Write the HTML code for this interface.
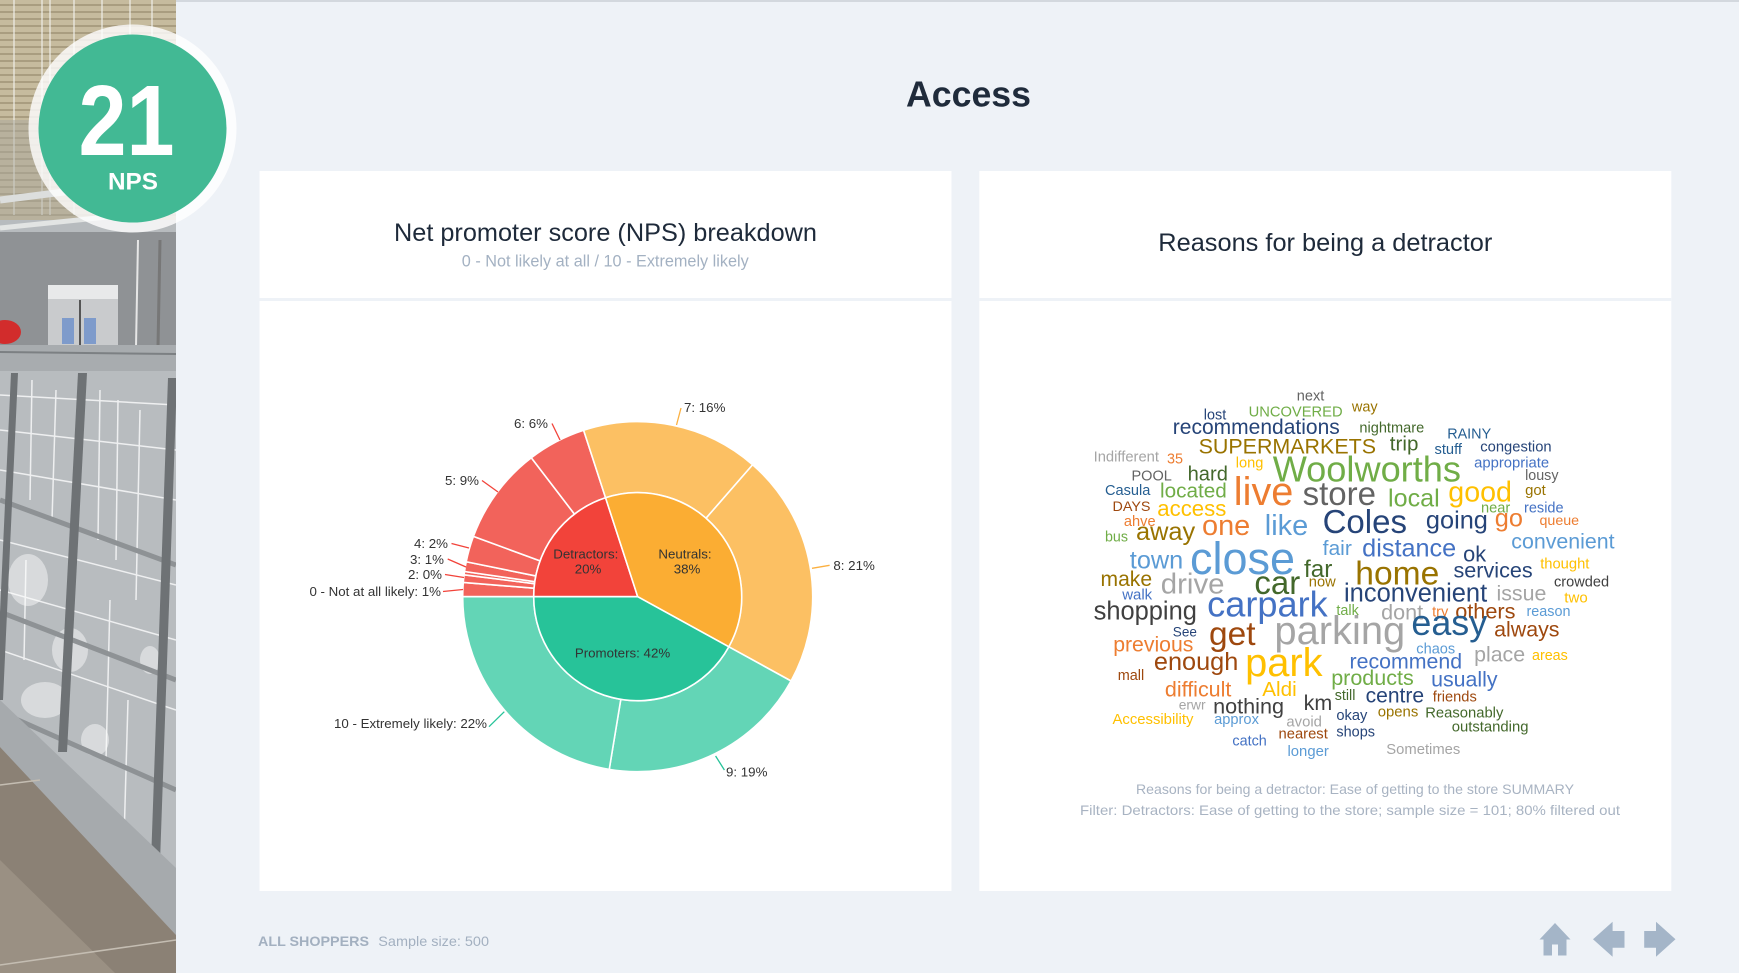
<!DOCTYPE html>
<html>
<head>
<meta charset="utf-8">
<style>
html,body{margin:0;padding:0;background:#eef2f7;}
body{width:1739px;height:973px;overflow:hidden;}
svg{display:block;}
text{font-family:"Liberation Sans",Arial,sans-serif;}
</style>
</head>
<body>
<svg width="1739" height="973" viewBox="0 0 1739 973" xmlns="http://www.w3.org/2000/svg">
<defs>
<pattern id="ceil" width="10" height="7" patternUnits="userSpaceOnUse">
<rect width="10" height="7" fill="#c6bb9e"/>
<rect y="4" width="10" height="2" fill="#a99d80"/>
</pattern>
<clipPath id="sb"><rect x="0" y="0" width="176" height="973"/></clipPath>
</defs>
<rect x="0" y="0" width="1739" height="973" fill="#eef2f7"/>
<rect x="0" y="0" width="1739" height="2" fill="#d3d8de"/>

<!-- Sidebar photo approximation -->
<g clip-path="url(#sb)">
<rect x="0" y="0" width="176" height="973" fill="#b7bbbe"/>
<rect x="0" y="0" width="176" height="220" fill="url(#ceil)"/>
<g stroke="#f0f0ea" stroke-width="1.5" opacity="0.8">
<line x1="14" y1="0" x2="14" y2="215"/><line x1="42" y1="0" x2="42" y2="215"/>
<line x1="50" y1="0" x2="50" y2="215"/><line x1="74" y1="0" x2="74" y2="215"/>
<line x1="102" y1="0" x2="102" y2="215"/><line x1="130" y1="0" x2="130" y2="215"/>
<line x1="152" y1="0" x2="152" y2="215"/>
</g>
<rect x="0" y="120" width="176" height="100" fill="#a9a89c" opacity="0.5"/>
<line x1="0" y1="200" x2="176" y2="178" stroke="#dcdedd" stroke-width="7"/>
<line x1="0" y1="228" x2="176" y2="210" stroke="#e2e4e3" stroke-width="5"/>
<rect x="0" y="232" width="176" height="115" fill="#8f9295"/>
<rect x="48" y="285" width="70" height="62" fill="#c9cbcd"/>
<rect x="48" y="285" width="70" height="14" fill="#e8e9ea"/>
<rect x="62" y="318" width="12" height="26" fill="#7e9bcb"/>
<rect x="84" y="318" width="12" height="26" fill="#7e9bcb"/>
<line x1="80" y1="300" x2="80" y2="347" stroke="#555" stroke-width="2"/>
<line x1="138" y1="240" x2="136" y2="347" stroke="#e6e6e6" stroke-width="2"/>
<line x1="160" y1="240" x2="158" y2="347" stroke="#777" stroke-width="3"/>
<ellipse cx="5" cy="332" rx="16" ry="12" fill="#d22c2c"/>
<rect x="0" y="345" width="176" height="26" fill="#a8acaf"/>
<line x1="0" y1="352" x2="176" y2="354" stroke="#7c8083" stroke-width="2"/>
<rect x="0" y="371" width="176" height="560" fill="#b8bcbf"/>
<g stroke="#f4f5f6" stroke-width="1.5" fill="none" opacity="0.9">
<line x1="0" y1="395" x2="176" y2="405"/><line x1="0" y1="430" x2="176" y2="450"/>
<line x1="0" y1="470" x2="176" y2="500"/><line x1="0" y1="540" x2="176" y2="585"/>
<line x1="0" y1="590" x2="176" y2="640"/><line x1="0" y1="650" x2="176" y2="710"/>
<line x1="32" y1="380" x2="30" y2="500"/><line x1="56" y1="390" x2="52" y2="520"/>
<line x1="100" y1="390" x2="98" y2="540"/><line x1="118" y1="400" x2="116" y2="560"/>
<line x1="140" y1="410" x2="136" y2="600"/><line x1="26" y1="560" x2="24" y2="660"/>
<line x1="110" y1="600" x2="106" y2="760"/><line x1="128" y1="700" x2="124" y2="840"/>
</g>
<g fill="#ffffff" opacity="0.45">
<ellipse cx="28" cy="580" rx="20" ry="26"/><ellipse cx="70" cy="650" rx="18" ry="22"/>
<ellipse cx="45" cy="700" rx="24" ry="18"/><ellipse cx="95" cy="740" rx="14" ry="16"/>
<ellipse cx="150" cy="660" rx="10" ry="14"/>
</g>
<g stroke="#8e9295" stroke-width="5">
<line x1="0" y1="500" x2="176" y2="565"/><line x1="0" y1="612" x2="176" y2="680"/>
<line x1="0" y1="712" x2="176" y2="790"/>
</g>
<polygon points="78,373 87,373 67,752 58,752" fill="#6e7275"/>
<polygon points="168,378 177,378 160,862 151,862" fill="#6e7275"/>
<polygon points="11,373 18,373 3,700 -4,700" fill="#6e7275"/>
<polygon points="0,700 176,868 176,935 0,747" fill="#a6aaad"/>
<polygon points="0,747 176,935 176,973 0,973" fill="#8b8175"/>
<polygon points="0,860 115,973 0,973" fill="#9a9083"/>
<line x1="0" y1="785" x2="40" y2="780" stroke="#c4bdb2" stroke-width="1.5"/>
<line x1="0" y1="965" x2="176" y2="940" stroke="#c4bdb2" stroke-width="1.5"/>
</g>

<!-- NPS badge -->
<circle cx="132.5" cy="128.5" r="104" fill="#ffffff" opacity="0.8"/>
<circle cx="132.5" cy="128.5" r="94" fill="#42b994"/>
<text x="126.5" y="155" font-size="100" font-weight="bold" fill="#ffffff" text-anchor="middle" textLength="96" lengthAdjust="spacingAndGlyphs">21</text>
<text x="133" y="189.3" font-size="24" font-weight="bold" fill="#ffffff" text-anchor="middle" textLength="50" lengthAdjust="spacingAndGlyphs">NPS</text>

<!-- Page title -->
<text x="968.5" y="106.5" font-size="36.5" font-weight="bold" fill="#1f2b3b" text-anchor="middle" textLength="125" lengthAdjust="spacingAndGlyphs">Access</text>

<!-- Panels -->
<rect x="259.5" y="171" width="692" height="720" fill="#ffffff"/>
<rect x="979.3" y="171" width="692" height="720" fill="#ffffff"/>
<rect x="259.5" y="298" width="692" height="3" fill="#eef2f7"/>
<rect x="979.3" y="298" width="692" height="3" fill="#eef2f7"/>

<text x="605.5" y="241" font-size="25" fill="#1e2a3a" text-anchor="middle" textLength="423" lengthAdjust="spacingAndGlyphs">Net promoter score (NPS) breakdown</text>
<text x="605.3" y="266.5" font-size="16.2" fill="#a3b1c2" text-anchor="middle" textLength="287" lengthAdjust="spacingAndGlyphs">0 - Not likely at all / 10 - Extremely likely</text>
<text x="1325.3" y="251" font-size="25" fill="#1e2a3a" text-anchor="middle" textLength="334" lengthAdjust="spacingAndGlyphs">Reasons for being a detractor</text>

<!-- Sunburst -->
<g stroke="#ffffff" stroke-width="1.6" stroke-linejoin="round">
<path d="M462.7,596.7 A175,175 0 0 1 463.28,582.42 L534.05,588.21 A104,104 0 0 0 533.7,596.7 Z" fill="#f2635b"/>
<path d="M463.28,582.42 A175,175 0 0 1 464.08,574.77 L534.52,583.67 A104,104 0 0 0 534.05,588.21 Z" fill="#f2635b"/>
<path d="M464.08,574.77 A175,175 0 0 1 464.52,571.50 L534.78,581.72 A104,104 0 0 0 534.52,583.67 Z" fill="#f2635b"/>
<path d="M464.52,571.50 A175,175 0 0 1 466.22,561.75 L535.79,575.93 A104,104 0 0 0 534.78,581.72 Z" fill="#f2635b"/>
<path d="M466.22,561.75 A175,175 0 0 1 473.42,536.39 L540.07,560.86 A104,104 0 0 0 535.79,575.93 Z" fill="#f2635b"/>
<path d="M473.42,536.39 A175,175 0 0 1 531.31,457.75 L574.48,514.13 A104,104 0 0 0 540.07,560.86 Z" fill="#f2635b"/>
<path d="M531.31,457.75 A175,175 0 0 1 583.62,430.26 L605.56,497.79 A104,104 0 0 0 574.48,514.13 Z" fill="#f2635b"/>
<path d="M583.62,430.26 A175,175 0 0 1 752.65,464.74 L706.01,518.28 A104,104 0 0 0 605.56,497.79 Z" fill="#fcc063"/>
<path d="M752.65,464.74 A175,175 0 0 1 791.05,681.01 L728.84,646.80 A104,104 0 0 0 706.01,518.28 Z" fill="#fcc063"/>
<path d="M791.05,681.01 A175,175 0 0 1 609.24,769.37 L620.79,699.32 A104,104 0 0 0 728.84,646.80 Z" fill="#63d5b6"/>
<path d="M609.24,769.37 A175,175 0 0 1 462.7,596.7 L533.7,596.7 A104,104 0 0 0 620.79,699.32 Z" fill="#63d5b6"/>
<path d="M637.7,596.7 L533.7,596.7 A104,104 0 0 1 605.56,497.79 Z" fill="#f2433a"/>
<path d="M637.7,596.7 L605.56,497.79 A104,104 0 0 1 728.84,646.80 Z" fill="#fbad33"/>
<path d="M637.7,596.7 L728.84,646.80 A104,104 0 0 1 533.7,596.7 Z" fill="#27c399"/>
</g>

<!-- leader lines -->
<g stroke-width="1.3" fill="none">
<line x1="676.5" y1="425" x2="681" y2="408" stroke="#fbb040"/>
<line x1="552" y1="423.5" x2="560" y2="440" stroke="#f2433a"/>
<line x1="482" y1="480.5" x2="498" y2="492" stroke="#f2433a"/>
<line x1="451.5" y1="543.5" x2="469" y2="548" stroke="#f2433a"/>
<line x1="447.7" y1="559" x2="466" y2="567" stroke="#f2433a"/>
<line x1="445" y1="574.5" x2="464" y2="577.5" stroke="#f2433a"/>
<line x1="443" y1="591.5" x2="463" y2="589.5" stroke="#f2433a"/>
<line x1="812" y1="568.3" x2="829.6" y2="565.3" stroke="#fbb040"/>
<line x1="715.6" y1="756" x2="724.4" y2="770" stroke="#27c399"/>
<line x1="489" y1="726.7" x2="504.3" y2="711.7" stroke="#27c399"/>
</g>
<g font-size="13.3" fill="#333333">
<text x="684" y="411.8">7: 16%</text>
<text x="548" y="428" text-anchor="end">6: 6%</text>
<text x="479" y="485" text-anchor="end">5: 9%</text>
<text x="448" y="548" text-anchor="end">4: 2%</text>
<text x="444" y="564" text-anchor="end">3: 1%</text>
<text x="442" y="579" text-anchor="end">2: 0%</text>
<text x="441" y="596" text-anchor="end">0 - Not at all likely: 1%</text>
<text x="833.4" y="569.8">8: 21%</text>
<text x="726" y="776.5">9: 19%</text>
<text x="487" y="728" text-anchor="end">10 - Extremely likely: 22%</text>
<text x="585.8" y="558.3" text-anchor="middle">Detractors:</text>
<text x="588" y="573.3" text-anchor="middle">20%</text>
<text x="685" y="558.3" text-anchor="middle">Neutrals:</text>
<text x="687" y="573.3" text-anchor="middle">38%</text>
<text x="622.5" y="657.7" text-anchor="middle">Promoters: 42%</text>
</g>

<!-- Word cloud -->
<g>
<text x="1296.8" y="400.7" font-size="14.6" fill="#636363" textLength="27.5" lengthAdjust="spacingAndGlyphs">next</text>
<text x="1203.8" y="419.3" font-size="14.4" fill="#264478" textLength="22.4" lengthAdjust="spacingAndGlyphs">lost</text>
<text x="1248.6" y="416.7" font-size="14.7" fill="#70ad47" textLength="94" lengthAdjust="spacingAndGlyphs">UNCOVERED</text>
<text x="1351.9" y="411.7" font-size="14.5" fill="#997300" textLength="25.8" lengthAdjust="spacingAndGlyphs">way</text>
<text x="1172.8" y="434" font-size="21" fill="#264478" textLength="167" lengthAdjust="spacingAndGlyphs">recommendations</text>
<text x="1359.4" y="432.7" font-size="14.6" fill="#43682b" textLength="64.8" lengthAdjust="spacingAndGlyphs">nightmare</text>
<text x="1447.2" y="438.3" font-size="14.4" fill="#255e91" textLength="44" lengthAdjust="spacingAndGlyphs">RAINY</text>
<text x="1198.6" y="453.3" font-size="21.4" fill="#997300" textLength="177.4" lengthAdjust="spacingAndGlyphs">SUPERMARKETS</text>
<text x="1389.8" y="450.7" font-size="20.6" fill="#43682b" textLength="28.6" lengthAdjust="spacingAndGlyphs">trip</text>
<text x="1434.5" y="454" font-size="14.6" fill="#255e91" textLength="27.5" lengthAdjust="spacingAndGlyphs">stuff</text>
<text x="1480.3" y="451.7" font-size="14.7" fill="#264478" textLength="71.3" lengthAdjust="spacingAndGlyphs">congestion</text>
<text x="1093.6" y="461.7" font-size="14.7" fill="#a5a5a5" textLength="65.4" lengthAdjust="spacingAndGlyphs">Indifferent</text>
<text x="1167" y="463.3" font-size="14.4" fill="#ed7d31" textLength="16" lengthAdjust="spacingAndGlyphs">35</text>
<text x="1235.8" y="467.3" font-size="14.6" fill="#ffc000" textLength="27.6" lengthAdjust="spacingAndGlyphs">long</text>
<text x="1272.7" y="481.7" font-size="36" fill="#70ad47" textLength="188.3" lengthAdjust="spacingAndGlyphs">Woolworths</text>
<text x="1474.1" y="467.3" font-size="14.8" fill="#4472c4" textLength="75" lengthAdjust="spacingAndGlyphs">appropriate</text>
<text x="1131.5" y="480.7" font-size="14.5" fill="#636363" textLength="40.3" lengthAdjust="spacingAndGlyphs">POOL</text>
<text x="1187.6" y="480.7" font-size="20.1" fill="#43682b" textLength="40.3" lengthAdjust="spacingAndGlyphs">hard</text>
<text x="1525.1" y="480" font-size="14.3" fill="#636363" textLength="33.4" lengthAdjust="spacingAndGlyphs">lousy</text>
<text x="1105" y="495" font-size="14.6" fill="#255e91" textLength="45.4" lengthAdjust="spacingAndGlyphs">Casula</text>
<text x="1160" y="497.3" font-size="20.7" fill="#70ad47" textLength="66.8" lengthAdjust="spacingAndGlyphs">located</text>
<text x="1233.8" y="505" font-size="39.7" fill="#ed7d31" textLength="59.6" lengthAdjust="spacingAndGlyphs">live</text>
<text x="1302.6" y="505" font-size="33" fill="#636363" textLength="73.4" lengthAdjust="spacingAndGlyphs">store</text>
<text x="1388" y="506.7" font-size="25.1" fill="#70ad47" textLength="51.7" lengthAdjust="spacingAndGlyphs">local</text>
<text x="1448.3" y="501.7" font-size="28.6" fill="#ffc000" textLength="63.7" lengthAdjust="spacingAndGlyphs">good</text>
<text x="1525.1" y="495" font-size="14.9" fill="#997300" textLength="20.7" lengthAdjust="spacingAndGlyphs">got</text>
<text x="1112.5" y="511" font-size="14" fill="#9e480e" textLength="38" lengthAdjust="spacingAndGlyphs">DAYS</text>
<text x="1157.3" y="516" font-size="22.2" fill="#ffc000" textLength="69" lengthAdjust="spacingAndGlyphs">access</text>
<text x="1481" y="512.7" font-size="14.6" fill="#70ad47" textLength="29.3" lengthAdjust="spacingAndGlyphs">near</text>
<text x="1524" y="512.7" font-size="14.5" fill="#4472c4" textLength="39.6" lengthAdjust="spacingAndGlyphs">reside</text>
<text x="1123.9" y="526" font-size="14.6" fill="#ed7d31" textLength="31.7" lengthAdjust="spacingAndGlyphs">ahve</text>
<text x="1202" y="535" font-size="28.9" fill="#ed7d31" textLength="48.2" lengthAdjust="spacingAndGlyphs">one</text>
<text x="1264.8" y="535" font-size="28.9" fill="#5b9bd5" textLength="43.4" lengthAdjust="spacingAndGlyphs">like</text>
<text x="1322.6" y="533" font-size="33" fill="#264478" textLength="84.4" lengthAdjust="spacingAndGlyphs">Coles</text>
<text x="1425.9" y="528.3" font-size="25" fill="#264478" textLength="62" lengthAdjust="spacingAndGlyphs">going</text>
<text x="1494.8" y="526.7" font-size="25.4" fill="#ed7d31" textLength="28.2" lengthAdjust="spacingAndGlyphs">go</text>
<text x="1539.5" y="525" font-size="14.2" fill="#ed7d31" textLength="39.6" lengthAdjust="spacingAndGlyphs">queue</text>
<text x="1105" y="541.7" font-size="14.3" fill="#70ad47" textLength="23" lengthAdjust="spacingAndGlyphs">bus</text>
<text x="1136" y="540" font-size="25" fill="#997300" textLength="59.2" lengthAdjust="spacingAndGlyphs">away</text>
<text x="1511.3" y="548.3" font-size="21.4" fill="#5b9bd5" textLength="103.3" lengthAdjust="spacingAndGlyphs">convenient</text>
<text x="1322.6" y="555" font-size="20" fill="#5b9bd5" textLength="29.3" lengthAdjust="spacingAndGlyphs">fair</text>
<text x="1362.2" y="556.7" font-size="25" fill="#4472c4" textLength="94" lengthAdjust="spacingAndGlyphs">distance</text>
<text x="1463.1" y="561.7" font-size="21.8" fill="#264478" textLength="23" lengthAdjust="spacingAndGlyphs">ok</text>
<text x="1540.2" y="568.3" font-size="14.8" fill="#ffc000" textLength="49.2" lengthAdjust="spacingAndGlyphs">thought</text>
<text x="1129.8" y="568.3" font-size="25" fill="#5b9bd5" textLength="53.4" lengthAdjust="spacingAndGlyphs">town</text>
<text x="1190" y="574" font-size="45" fill="#5b9bd5" textLength="105" lengthAdjust="spacingAndGlyphs">close</text>
<text x="1304" y="577" font-size="24" fill="#43682b" textLength="28.3" lengthAdjust="spacingAndGlyphs">far</text>
<text x="1355.3" y="584.5" font-size="33.6" fill="#997300" textLength="84" lengthAdjust="spacingAndGlyphs">home</text>
<text x="1453.5" y="577.5" font-size="21.6" fill="#264478" textLength="79.2" lengthAdjust="spacingAndGlyphs">services</text>
<text x="1100.5" y="586" font-size="21" fill="#997300" textLength="51.6" lengthAdjust="spacingAndGlyphs">make</text>
<text x="1160.8" y="593.3" font-size="29" fill="#a5a5a5" textLength="63.7" lengthAdjust="spacingAndGlyphs">drive</text>
<text x="1254.4" y="594" font-size="33" fill="#43682b" textLength="45.8" lengthAdjust="spacingAndGlyphs">car</text>
<text x="1308.8" y="586.7" font-size="14.7" fill="#997300" textLength="26.9" lengthAdjust="spacingAndGlyphs">now</text>
<text x="1554" y="586.7" font-size="14.6" fill="#404040" textLength="55.1" lengthAdjust="spacingAndGlyphs">crowded</text>
<text x="1122.2" y="599.3" font-size="15" fill="#4472c4" textLength="30" lengthAdjust="spacingAndGlyphs">walk</text>
<text x="1344" y="601.7" font-size="25.5" fill="#264478" textLength="143.2" lengthAdjust="spacingAndGlyphs">inconvenient</text>
<text x="1496.5" y="600.7" font-size="21.4" fill="#a5a5a5" textLength="49.9" lengthAdjust="spacingAndGlyphs">issue</text>
<text x="1564.3" y="602.3" font-size="15" fill="#ffc000" textLength="23.4" lengthAdjust="spacingAndGlyphs">two</text>
<text x="1093.6" y="619.3" font-size="25.5" fill="#404040" textLength="103.3" lengthAdjust="spacingAndGlyphs">shopping</text>
<text x="1207.2" y="616.7" font-size="36" fill="#4472c4" textLength="120.5" lengthAdjust="spacingAndGlyphs">carpark</text>
<text x="1336.4" y="615" font-size="14.4" fill="#70ad47" textLength="22.4" lengthAdjust="spacingAndGlyphs">talk</text>
<text x="1381.1" y="619.3" font-size="21.6" fill="#a5a5a5" textLength="42" lengthAdjust="spacingAndGlyphs">dont</text>
<text x="1432.1" y="616.7" font-size="14.6" fill="#ed7d31" textLength="16.2" lengthAdjust="spacingAndGlyphs">try</text>
<text x="1455.2" y="618.3" font-size="21.7" fill="#9e480e" textLength="60.3" lengthAdjust="spacingAndGlyphs">others</text>
<text x="1526.5" y="616" font-size="14.4" fill="#5b9bd5" textLength="44" lengthAdjust="spacingAndGlyphs">reason</text>
<text x="1172.8" y="636.7" font-size="13.5" fill="#264478" textLength="24.1" lengthAdjust="spacingAndGlyphs">See</text>
<text x="1209" y="645" font-size="33.5" fill="#9e480e" textLength="46.5" lengthAdjust="spacingAndGlyphs">get</text>
<text x="1274.4" y="644" font-size="40" fill="#a5a5a5" textLength="130.8" lengthAdjust="spacingAndGlyphs">parking</text>
<text x="1411.4" y="635" font-size="36" fill="#255e91" textLength="75.8" lengthAdjust="spacingAndGlyphs">easy</text>
<text x="1494.1" y="636.7" font-size="21.4" fill="#9e480e" textLength="65.4" lengthAdjust="spacingAndGlyphs">always</text>
<text x="1113.2" y="651.7" font-size="21.2" fill="#ed7d31" textLength="80.2" lengthAdjust="spacingAndGlyphs">previous</text>
<text x="1416.3" y="653.3" font-size="14.6" fill="#5b9bd5" textLength="38.9" lengthAdjust="spacingAndGlyphs">chaos</text>
<text x="1474.1" y="661.7" font-size="21.3" fill="#a5a5a5" textLength="51" lengthAdjust="spacingAndGlyphs">place</text>
<text x="1532" y="660" font-size="14.3" fill="#ffc000" textLength="35.8" lengthAdjust="spacingAndGlyphs">areas</text>
<text x="1153.9" y="670" font-size="25.3" fill="#9e480e" textLength="84.4" lengthAdjust="spacingAndGlyphs">enough</text>
<text x="1245.1" y="676" font-size="40" fill="#ffc000" textLength="77.5" lengthAdjust="spacingAndGlyphs">park</text>
<text x="1349.5" y="668.3" font-size="21.3" fill="#4472c4" textLength="112.6" lengthAdjust="spacingAndGlyphs">recommend</text>
<text x="1117.7" y="680" font-size="14.5" fill="#9e480e" textLength="26.5" lengthAdjust="spacingAndGlyphs">mall</text>
<text x="1331.2" y="685" font-size="21.5" fill="#70ad47" textLength="82.6" lengthAdjust="spacingAndGlyphs">products</text>
<text x="1431.1" y="686.7" font-size="21.4" fill="#4472c4" textLength="66.5" lengthAdjust="spacingAndGlyphs">usually</text>
<text x="1164.9" y="696.7" font-size="21.4" fill="#ed7d31" textLength="66.5" lengthAdjust="spacingAndGlyphs">difficult</text>
<text x="1262.3" y="696" font-size="20.7" fill="#ffc000" textLength="34.4" lengthAdjust="spacingAndGlyphs">Aldi</text>
<text x="1334.7" y="700" font-size="14.3" fill="#43682b" textLength="20.7" lengthAdjust="spacingAndGlyphs">still</text>
<text x="1365.6" y="702.7" font-size="21" fill="#264478" textLength="58.5" lengthAdjust="spacingAndGlyphs">centre</text>
<text x="1432.8" y="701.7" font-size="14.7" fill="#9e480e" textLength="44" lengthAdjust="spacingAndGlyphs">friends</text>
<text x="1178.7" y="709.3" font-size="13.8" fill="#a5a5a5" textLength="26.9" lengthAdjust="spacingAndGlyphs">erwr</text>
<text x="1213.1" y="713.3" font-size="21.6" fill="#404040" textLength="70.9" lengthAdjust="spacingAndGlyphs">nothing</text>
<text x="1303.7" y="710" font-size="21.4" fill="#404040" textLength="28.6" lengthAdjust="spacingAndGlyphs">km</text>
<text x="1336.4" y="720" font-size="14.7" fill="#264478" textLength="31" lengthAdjust="spacingAndGlyphs">okay</text>
<text x="1377.7" y="716.7" font-size="14.9" fill="#997300" textLength="40.6" lengthAdjust="spacingAndGlyphs">opens</text>
<text x="1425.2" y="717.3" font-size="14.8" fill="#43682b" textLength="78.2" lengthAdjust="spacingAndGlyphs">Reasonably</text>
<text x="1112.5" y="724" font-size="14.9" fill="#ffc000" textLength="80.9" lengthAdjust="spacingAndGlyphs">Accessibility</text>
<text x="1214.1" y="724" font-size="14.6" fill="#5b9bd5" textLength="44.8" lengthAdjust="spacingAndGlyphs">approx</text>
<text x="1286.4" y="726.7" font-size="14.9" fill="#a5a5a5" textLength="35.5" lengthAdjust="spacingAndGlyphs">avoid</text>
<text x="1451.7" y="731.7" font-size="14.9" fill="#43682b" textLength="76.8" lengthAdjust="spacingAndGlyphs">outstanding</text>
<text x="1278.5" y="738.3" font-size="14.8" fill="#9e480e" textLength="49.3" lengthAdjust="spacingAndGlyphs">nearest</text>
<text x="1336.4" y="736.7" font-size="14.5" fill="#264478" textLength="38.6" lengthAdjust="spacingAndGlyphs">shops</text>
<text x="1232.4" y="745.7" font-size="14.4" fill="#4472c4" textLength="34.4" lengthAdjust="spacingAndGlyphs">catch</text>
<text x="1287.5" y="756" font-size="14.9" fill="#5b9bd5" textLength="41.3" lengthAdjust="spacingAndGlyphs">longer</text>
<text x="1386.3" y="754" font-size="14.8" fill="#a5a5a5" textLength="74" lengthAdjust="spacingAndGlyphs">Sometimes</text>
</g>

<!-- Word cloud captions -->
<text x="1355" y="794" font-size="14" fill="#a8b3c2" text-anchor="middle" textLength="438" lengthAdjust="spacingAndGlyphs">Reasons for being a detractor: Ease of getting to the store SUMMARY</text>
<text x="1350" y="815" font-size="14" fill="#a8b3c2" text-anchor="middle" textLength="540" lengthAdjust="spacingAndGlyphs">Filter: Detractors: Ease of getting to the store; sample size = 101; 80% filtered out</text>

<!-- Footer -->
<text x="258" y="946" font-size="14" font-weight="bold" fill="#a3b0c0" textLength="111" lengthAdjust="spacingAndGlyphs">ALL SHOPPERS</text>
<text x="378.3" y="946" font-size="14" fill="#a3b0c0" textLength="110.7" lengthAdjust="spacingAndGlyphs">Sample size: 500</text>

<!-- Nav icons -->
<g fill="#a4b5c8">
<polygon points="1555,923 1570.5,939.5 1539.5,939.5"/>
<path d="M1543.5,939 H1566.5 V955.5 H1558 V944.5 H1552 V955.5 H1543.5 Z"/>
<polygon points="1593,939.3 1612.6,921.7 1612.6,931 1624.5,931 1624.5,947.7 1612.6,947.7 1612.6,956.7"/>
<polygon points="1675.5,939.3 1656,921.7 1656,931 1644.2,931 1644.2,947.7 1656,947.7 1656,956.7"/>
</g>
</svg>
</body>
</html>
